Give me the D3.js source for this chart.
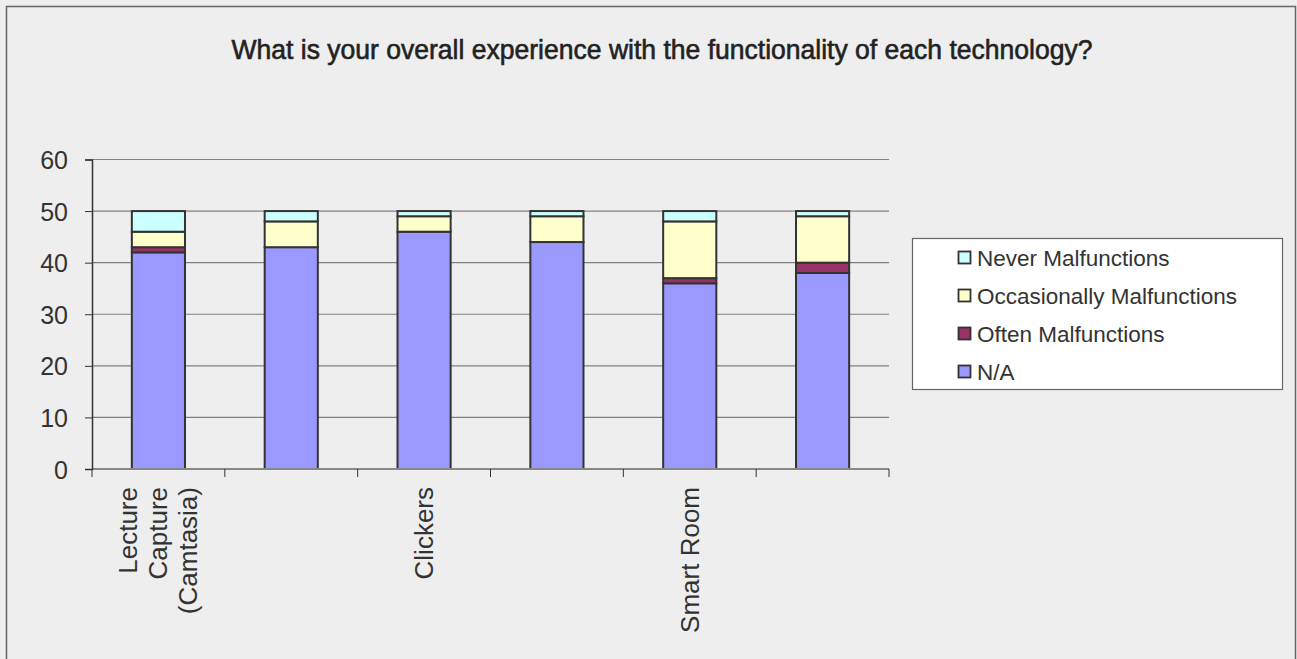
<!DOCTYPE html>
<html><head><meta charset="utf-8">
<script src="https://cdn.jsdelivr.net/npm/d3@7"></script>
<style>html,body{margin:0;padding:0;background:#eeeeee;}svg{display:block;}</style>
</head><body>
<script>
const title = "What is your overall experience with the functionality of each technology?";
const categories = ["Lecture Capture (Camtasia)", "", "Clickers", "", "Smart Room", ""];
const categoryLines = [["Lecture", "Capture", "(Camtasia)"], [], ["Clickers"], [], ["Smart Room"], []];
const seriesNames = ["N/A", "Often Malfunctions", "Occasionally Malfunctions", "Never Malfunctions"];
const naValues = [42, 43, 46, 44, 36, 38];
const oftenValues = [1, 0, 0, 0, 1, 2];
const occasionallyValues = [3, 5, 3, 5, 11, 9];
const neverValues = [4, 2, 1, 1, 2, 1];
const yTicks = [0, 10, 20, 30, 40, 50, 60];
const colors = ["#9999ff", "#993366", "#ffffcc", "#ccffff"];

const W = 1297, H = 659;
const svg = d3.select("body").append("svg").attr("width", W).attr("height", H);
svg.append("rect").attr("x", 0).attr("y", 0).attr("width", W).attr("height", H).attr("fill", "#eeeeee");
svg.append("rect").attr("x", 6.5).attr("y", 6.5).attr("width", 1289).attr("height", 700)
  .attr("fill", "#eeeeee").attr("stroke", "#666").attr("stroke-width", 1.5);

svg.append("text").attr("x", 662).attr("y", 59).attr("text-anchor", "middle")
  .attr("font-family", "Liberation Sans, Arial, sans-serif").attr("font-size", 27.5)
  .attr("fill", "#222").attr("stroke", "#222").attr("stroke-width", 0.6)
  .attr("textLength", 861).attr("lengthAdjust", "spacingAndGlyphs")
  .text(title);

const idx = d3.range(categories.length);
const x = d3.scaleBand().domain(idx).range([92, 889]).paddingInner(0.6).paddingOuter(0.3);
const y = d3.scaleLinear().domain([0, 60]).range([469, 159.5]);

// gridlines
svg.append("g").selectAll("line").data(yTicks.filter(d => d > 0)).join("line")
  .attr("x1", 92).attr("x2", 889).attr("y1", d => y(d)).attr("y2", d => y(d))
  .attr("stroke", "#808080").attr("stroke-width", 1.2);

// stacked bars
const rows = idx.map(i => ({i, na: naValues[i], often: oftenValues[i], occ: occasionallyValues[i], never: neverValues[i]}));
const stack = d3.stack().keys(["na", "often", "occ", "never"]);
const layers = stack(rows);
layers.forEach((layer, li) => {
  svg.append("g").selectAll("rect").data(layer.filter(d => d[1] - d[0] > 0)).join("rect")
    .attr("x", d => x(d.data.i)).attr("width", x.bandwidth())
    .attr("y", d => y(d[1])).attr("height", d => y(d[0]) - y(d[1]))
    .attr("fill", colors[li]).attr("stroke", "#333").attr("stroke-width", 2);
});

// x axis line
svg.append("line").attr("x1", 92).attr("x2", 889).attr("y1", y(0)).attr("y2", y(0))
  .attr("stroke", "#888").attr("stroke-width", 2);
// x ticks at category boundaries
const bx = d3.scaleLinear().domain([0, categories.length]).range([92, 889]);
svg.append("g").selectAll("line").data(d3.range(categories.length + 1)).join("line")
  .attr("x1", d => bx(d)).attr("x2", d => bx(d))
  .attr("y1", y(0)).attr("y2", y(0) + 8).attr("stroke", "#333").attr("stroke-width", 1);

// y axis
const yAxis = svg.append("g").attr("transform", "translate(92,0)")
  .call(d3.axisLeft(y).tickValues(yTicks).tickSize(7).tickPadding(17));
yAxis.select(".domain").attr("stroke", "#333").attr("stroke-width", 1.5);
yAxis.selectAll(".tick line").attr("stroke", "#333");
yAxis.selectAll(".tick text").attr("font-family", "Liberation Sans, Arial, sans-serif")
  .attr("font-size", 25).attr("fill", "#333").attr("dy", "0.36em");

// x labels (rotated)
const lh = 30;
idx.forEach(i => {
  const lines = categoryLines[i];
  if (!lines.length) return;
  const cx = x(i) + x.bandwidth() / 2;
  const n = lines.length;
  lines.forEach((t, k) => {
    const off = (k - (n - 1) / 2) * lh;
    const px = cx + off + 9;
    svg.append("text").attr("transform", `translate(${px},487) rotate(-90)`)
      .attr("text-anchor", "end").attr("font-family", "Liberation Sans, Arial, sans-serif")
      .attr("font-size", 26).attr("fill", "#333").text(t);
  });
});

// legend
svg.append("rect").attr("x", 912.5).attr("y", 238.5).attr("width", 370).attr("height", 151)
  .attr("fill", "#ffffff").attr("stroke", "#666").attr("stroke-width", 1.2);
const legendOrder = [3, 2, 1, 0];
legendOrder.forEach((s, k) => {
  const cy = 258 + k * 38;
  svg.append("rect").attr("x", 958.5).attr("y", cy - 6.5).attr("width", 12).attr("height", 12)
    .attr("fill", colors[s]).attr("stroke", "#333").attr("stroke-width", 1.8);
  svg.append("text").attr("x", 977).attr("y", cy + 8).attr("font-family", "Liberation Sans, Arial, sans-serif")
    .attr("font-size", 22.5).attr("fill", "#333").text(seriesNames[s]);
});
</script>
</body></html>
